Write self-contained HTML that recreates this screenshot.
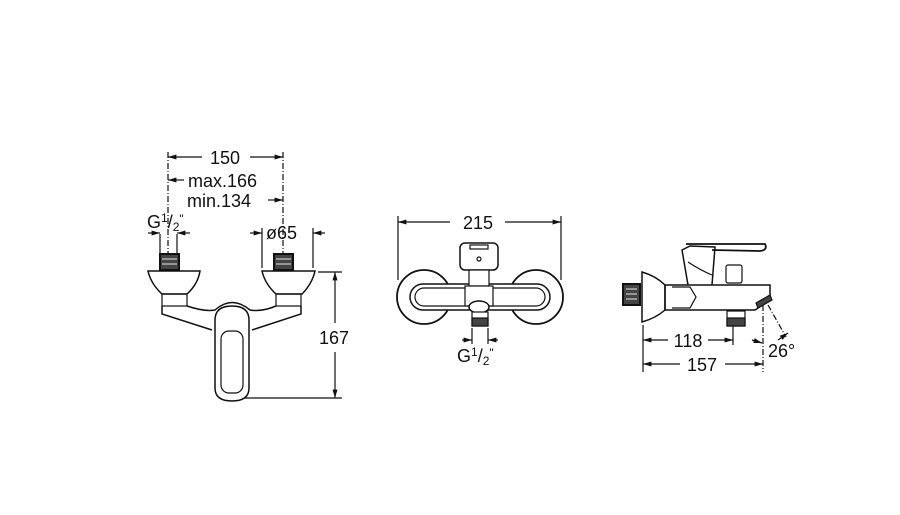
<!DOCTYPE html>
<html><head><meta charset="utf-8"><style>
html,body{margin:0;padding:0;background:#fff;}
svg{display:block;}
text{font-family:"Liberation Sans",sans-serif;font-size:18px;fill:#111;}
</style></head><body>
<svg width="900" height="515" viewBox="0 0 900 515" xmlns="http://www.w3.org/2000/svg">
<defs>
<marker id="a" viewBox="0 0 10 10" refX="10" refY="5" markerWidth="7" markerHeight="7" orient="auto-start-reverse"><path d="M0,2 L10,5 L0,8 z" fill="#111"/></marker>
</defs>
<g stroke="#111" stroke-width="1.2" fill="none">
<!-- LEFT VIEW dims -->
<line x1="168" y1="157" x2="202" y2="157" marker-start="url(#a)"/>
<line x1="250" y1="157" x2="283" y2="157" marker-end="url(#a)"/>
<line x1="168" y1="180" x2="184" y2="180" marker-start="url(#a)"/>
<line x1="268" y1="200" x2="283" y2="200" marker-end="url(#a)"/>
<line x1="168" y1="152" x2="168" y2="262" stroke-dasharray="6,2,1,2"/>
<line x1="283" y1="152" x2="283" y2="262" stroke-dasharray="6,2,1,2"/>
<line x1="160" y1="234" x2="160" y2="262"/>
<line x1="177" y1="234" x2="177" y2="262"/>
<line x1="148" y1="233" x2="160" y2="233" marker-end="url(#a)"/>
<line x1="190" y1="233" x2="177" y2="233" marker-end="url(#a)"/>
<line x1="262" y1="228" x2="262" y2="268"/>
<line x1="313" y1="228" x2="313" y2="268"/>
<line x1="250" y1="233" x2="262" y2="233" marker-end="url(#a)"/>
<line x1="325" y1="233" x2="313" y2="233" marker-end="url(#a)"/>
<line x1="318" y1="272" x2="342" y2="272"/>
<line x1="245" y1="398" x2="342" y2="398"/>
<line x1="335" y1="323" x2="335" y2="272" marker-end="url(#a)"/>
<line x1="335" y1="352" x2="335" y2="398" marker-end="url(#a)"/>
<!-- left body -->
<rect x="160" y="254" width="19" height="16" stroke-width="2" fill="#444"/>
<line x1="162" y1="259" x2="177" y2="259" stroke="#ccc"/><line x1="162" y1="264" x2="177" y2="264" stroke="#ccc"/>
<rect x="274" y="254" width="19" height="16" stroke-width="2" fill="#444"/>
<line x1="276" y1="259" x2="291" y2="259" stroke="#ccc"/><line x1="276" y1="264" x2="291" y2="264" stroke="#ccc"/>
<path d="M148,271 L200,271 Q198,284 187,294 L162,294 Q151,284 148,271 z" stroke-width="1.5"/>
<path d="M262,271 L315,271 Q312,284 302,294 L276,294 Q265,284 262,271 z" stroke-width="1.5"/>
<rect x="162" y="294" width="25" height="12"/>
<rect x="276" y="294" width="25" height="12"/>
<path d="M162,306 L162,314 L212,330" stroke-width="1.5"/>
<path d="M301,306 L301,314 L252,330" stroke-width="1.5"/>
<path d="M187,306 Q205,312 215,310 Q232,295 250,310 Q262,312 276,306" stroke-width="1.5"/>
<path d="M215,340 L215,320 Q215,306 232,306 Q249,306 249,320 L249,388 Q249,401 232,401 Q215,401 215,388 z" stroke-width="1.5"/>
<rect x="221" y="331" width="22" height="62" rx="8"/>
<!-- MIDDLE VIEW -->
<line x1="398" y1="216" x2="398" y2="280"/>
<line x1="561" y1="216" x2="561" y2="280"/>
<line x1="398" y1="222" x2="450" y2="222" marker-start="url(#a)"/>
<line x1="505" y1="222" x2="561" y2="222" marker-end="url(#a)"/>
<circle cx="424" cy="297" r="27" stroke-width="1.8"/>
<circle cx="536" cy="297" r="27" stroke-width="1.8"/>
<rect x="410" y="284" width="140" height="26" rx="13" fill="#fff" stroke-width="1.5"/>
<rect x="415" y="288" width="130" height="18" rx="9"/>
<rect x="460" y="243" width="38" height="27" rx="5" fill="#fff" stroke-width="1.5"/>
<rect x="470" y="245" width="18" height="4"/>
<circle cx="479" cy="259" r="2"/>
<rect x="469" y="270" width="20" height="16" fill="#fff"/>
<rect x="465" y="286" width="28" height="20" fill="#fff"/>
<ellipse cx="479" cy="307" rx="10" ry="6" fill="#fff" stroke-width="1.5"/>
<rect x="472" y="312" width="16" height="14" fill="#fff"/>
<rect x="472" y="318" width="16" height="8" fill="#444"/>
<line x1="472" y1="328" x2="472" y2="344"/><line x1="488" y1="328" x2="488" y2="344"/>
<line x1="462" y1="340" x2="472" y2="340" marker-end="url(#a)"/>
<line x1="498" y1="340" x2="488" y2="340" marker-end="url(#a)"/>
<!-- RIGHT VIEW -->
<rect x="623" y="284" width="17" height="21" stroke-width="2" fill="#444"/>
<line x1="626" y1="289" x2="637" y2="289" stroke="#ccc"/><line x1="626" y1="294" x2="637" y2="294" stroke="#ccc"/><line x1="626" y1="299" x2="637" y2="299" stroke="#ccc"/>
<path d="M642,272 Q656,276 665,285 L665,310 Q656,318 642,322 z" stroke-width="1.5"/>
<path d="M665,285 L770,285 L770,300 L755,310 L665,310 z" stroke-width="1.5"/>
<path d="M672,287 L690,287 L696,297 L690,308 L672,308"/>
<path d="M688,285 L682,250 L690,246 L715,247 L712,285" stroke-width="1.5"/>
<path d="M686,244 L765,244 Q768,250 760,251 L712,250" stroke-width="1.8"/>
<path d="M688,262 Q700,270 712,275"/>
<rect x="726" y="265" width="16" height="18" rx="2"/>
<rect x="727" y="311" width="18" height="15"/>
<rect x="727" y="318" width="18" height="8" fill="#444"/>
<path d="M756,303 L770,295 L772,300 L758,308 z" fill="#444"/>
<line x1="643" y1="325" x2="643" y2="372"/>
<line x1="733" y1="326" x2="733" y2="345"/>
<line x1="763" y1="305" x2="763" y2="372" stroke-dasharray="6,2,1,2"/>
<line x1="768" y1="305" x2="786" y2="337" stroke-dasharray="6,2,1,2"/>
<line x1="778" y1="340" x2="788" y2="333" marker-end="url(#a)"/>
<line x1="752" y1="340" x2="762" y2="343" marker-end="url(#a)"/>
<line x1="643" y1="340" x2="668" y2="340" marker-start="url(#a)"/>
<line x1="708" y1="340" x2="733" y2="340" marker-end="url(#a)"/>
<line x1="643" y1="364" x2="680" y2="364" marker-start="url(#a)"/>
<line x1="725" y1="364" x2="763" y2="364" marker-end="url(#a)"/>
</g>
<text x="225" y="164" text-anchor="middle">150</text>
<text x="188" y="187">max.166</text>
<text x="187" y="207">min.134</text>
<text x="147" y="228">G<tspan font-size="12" dy="-6">1</tspan><tspan dy="6">/</tspan><tspan font-size="12" dy="3">2</tspan><tspan font-size="12" dy="-8">"</tspan></text>
<text x="266" y="239">ø65</text>
<text x="334" y="344" text-anchor="middle">167</text>
<text x="478" y="229" text-anchor="middle">215</text>
<text x="457" y="362">G<tspan font-size="12" dy="-6">1</tspan><tspan dy="6">/</tspan><tspan font-size="12" dy="3">2</tspan><tspan font-size="12" dy="-8">"</tspan></text>
<text x="688" y="347" text-anchor="middle">118</text>
<text x="702" y="371" text-anchor="middle">157</text>
<text x="768" y="357">26°</text>
</svg>
</body></html>
